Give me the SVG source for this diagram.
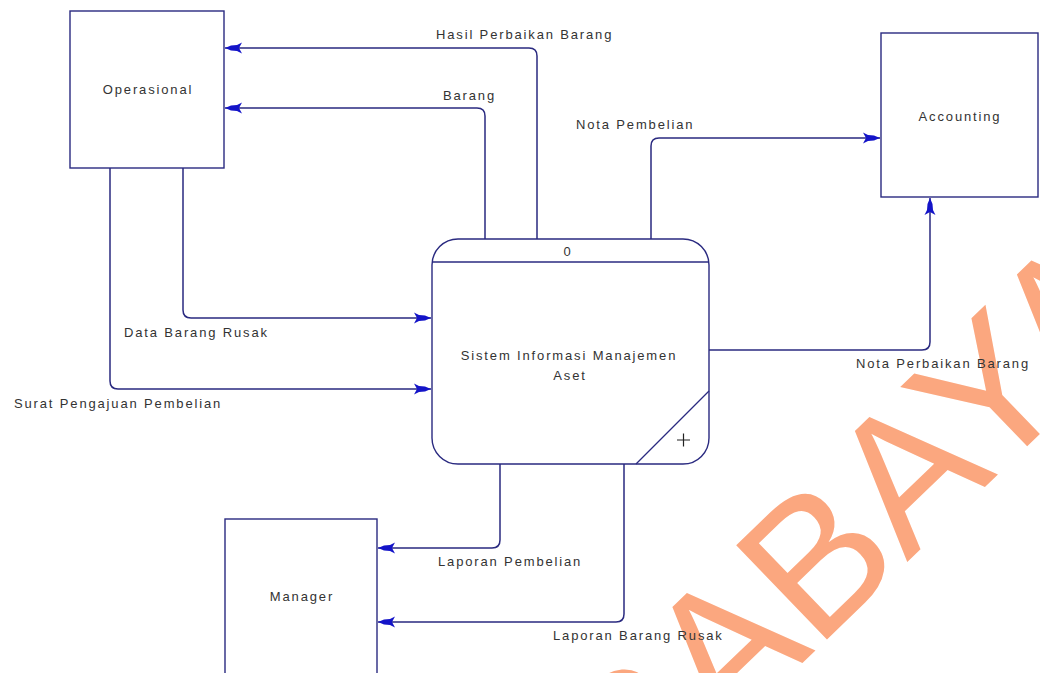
<svg xmlns="http://www.w3.org/2000/svg" width="1040" height="673" viewBox="0 0 1040 673">
<style>
.box{fill:#fff;stroke:#2a2a80;stroke-width:1.4}
.flow{fill:none;stroke:#2a2a80;stroke-width:1.5}
.lbl{font-family:"Liberation Sans",Arial,sans-serif;font-size:13px;fill:#333;letter-spacing:1.85px}
.mid{text-anchor:middle}
.wm{font-family:"Liberation Sans",Arial,sans-serif;font-size:190px;fill:#fba77f}
</style>
<defs>
<marker id="arr" viewBox="-18 -6 19 12" markerWidth="19" markerHeight="12" refX="0" refY="0" orient="auto" markerUnits="userSpaceOnUse">
<path d="M0,0 L-6,-2.5 L-12,-3 L-17,-5.5 L-14,0 L-17,5.5 L-12,3 L-6,2.5 Z" fill="#1414c8"/>
</marker>
</defs>
<rect width="1040" height="673" fill="#fff"/>
<text class="wm" transform="translate(436,1017) rotate(-44)">SURABAYA</text>

<g id="operasional">
<rect class="box" x="70" y="11" width="154" height="157"/>
<text class="lbl mid" x="148" y="94">Operasional</text>
</g>
<g id="accounting">
<rect class="box" x="881" y="33" width="157" height="164"/>
<text class="lbl mid" x="960" y="121">Accounting</text>
</g>
<g id="manager">
<rect class="box" x="225" y="519" width="152" height="160"/>
<text class="lbl mid" x="302" y="601">Manager</text>
</g>
<g id="process0">
<rect class="box" x="432" y="239" width="277" height="225" rx="26" ry="26"/>
<line x1="432" y1="262" x2="709" y2="262" stroke="#2a2a80" stroke-width="1.4"/>
<line x1="709" y1="391" x2="636" y2="464" stroke="#2a2a80" stroke-width="1.2"/>
<text class="lbl mid" x="568" y="256">0</text>
<text class="lbl mid" x="569" y="360">Sistem Informasi Manajemen</text>
<text class="lbl mid" x="570" y="380">Aset</text>
<path d="M677,440 H690 M683.5,433.5 V446.5" stroke="#222" stroke-width="1.2"/>
</g>

<g id="connectors">
<path class="flow" d="M537,239 V56 Q537,48 529,48 H225" marker-end="url(#arr)"/>
<path class="flow" d="M485,239 V116 Q485,108 477,108 H225" marker-end="url(#arr)"/>
<path class="flow" d="M651,239 V146 Q651,138 659,138 H880" marker-end="url(#arr)"/>
<path class="flow" d="M183,168 V310 Q183,318 191,318 H431" marker-end="url(#arr)"/>
<path class="flow" d="M110,168 V381 Q110,389 118,389 H431" marker-end="url(#arr)"/>
<path class="flow" d="M709,350 H922 Q930,350 930,342 V198" marker-end="url(#arr)"/>
<path class="flow" d="M500,464 V540 Q500,548 492,548 H378" marker-end="url(#arr)"/>
<path class="flow" d="M624,464 V614 Q624,622 616,622 H378" marker-end="url(#arr)"/>
</g>

<g id="labels">
<text class="lbl" x="436" y="39">Hasil Perbaikan Barang</text>
<text class="lbl" x="443" y="100">Barang</text>
<text class="lbl" x="576" y="129">Nota Pembelian</text>
<text class="lbl" x="124" y="337">Data Barang Rusak</text>
<text class="lbl" x="14" y="408">Surat Pengajuan Pembelian</text>
<text class="lbl" x="856" y="368">Nota Perbaikan Barang</text>
<text class="lbl" x="438" y="566">Laporan Pembelian</text>
<text class="lbl" x="553" y="640">Laporan Barang Rusak</text>
</g>
</svg>
